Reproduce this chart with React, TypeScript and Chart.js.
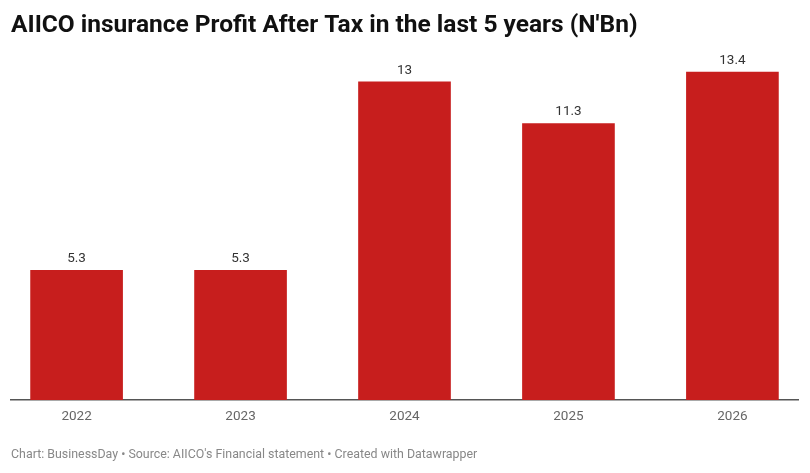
import React, { useEffect, useRef } from "react";
import { Chart, registerables, Plugin } from "chart.js";

Chart.register(...registerables);

// chart data
const years = ["2022", "2023", "2024", "2025", "2026"];
const profit = [5.3, 5.3, 13, 11.3, 13.4];
const valueLabels = ["5.3", "5.3", "13", "11.3", "13.4"];

const titleText = "AIICO insurance Profit After Tax in the last 5 years (N'Bn)";
const footerText =
  "Chart: BusinessDay • Source: AIICO's Financial statement • Created with Datawrapper";

// draws the value above each bar
const valueLabelPlugin: Plugin<"bar"> = {
  id: "valueLabels",
  afterDatasetsDraw(chart) {
    const ctx = chart.ctx;
    const meta = chart.getDatasetMeta(0);
    ctx.save();
    ctx.font = "13.5px Roboto";
    ctx.fillStyle = "#333";
    ctx.textAlign = "center";
    ctx.textBaseline = "alphabetic";
    meta.data.forEach((bar, i) => {
      ctx.fillText(valueLabels[i], bar.x, bar.y - 8);
    });
    ctx.restore();
  },
};

const App: React.FC = () => {
  const canvasRef = useRef<HTMLCanvasElement | null>(null);

  useEffect(() => {
    document.body.style.margin = "0";
    if (!canvasRef.current) return;
    const ctx = canvasRef.current.getContext("2d");
    if (!ctx) return;

    const chart = new Chart(ctx, {
      type: "bar",
      data: {
        datasets: [
          {
            data: profit.map((v, i) => ({ x: i, y: v })),
            backgroundColor: "#c71e1d",
            barThickness: 92,
          },
        ],
      },
      options: {
        animation: false,
        responsive: true,
        maintainAspectRatio: false,
        layout: { padding: { left: 11, right: 12, top: 0, bottom: 11 } },
        scales: {
          x: {
            type: "linear",
            min: -0.4,
            max: 4.4,
            offset: false,
            grid: { display: false, drawTicks: false },
            border: { display: true, color: "#555", width: 1.5 },
            ticks: {
              stepSize: 1,
              includeBounds: false,
              autoSkip: false,
              maxRotation: 0,
              padding: 9,
              color: "#666",
              font: { family: "Roboto", size: 13.5 },
              callback: (v) => years[Number(v)] ?? "",
            },
          },
          y: {
            display: false,
            min: 0,
            max: 14,
          },
        },
        plugins: {
          legend: { display: false },
          tooltip: { enabled: false },
          title: {
            display: true,
            text: titleText,
            align: "start",
            color: "#111",
            font: { family: "Roboto", size: 24.5, weight: "bold" },
            padding: { top: 11, bottom: 17 },
          },
          subtitle: {
            display: true,
            position: "bottom",
            text: footerText,
            align: "start",
            color: "#888",
            font: { family: "Roboto", size: 12.4 },
            padding: { top: 13, bottom: 0 },
          },
        },
      },
      plugins: [valueLabelPlugin],
    });

    return () => {
      chart.destroy();
    };
  }, []);

  return (
    <div style={{ position: "relative", width: 810, height: 473, background: "#fff" }}>
      <canvas ref={canvasRef} />
    </div>
  );
};

export default App;
